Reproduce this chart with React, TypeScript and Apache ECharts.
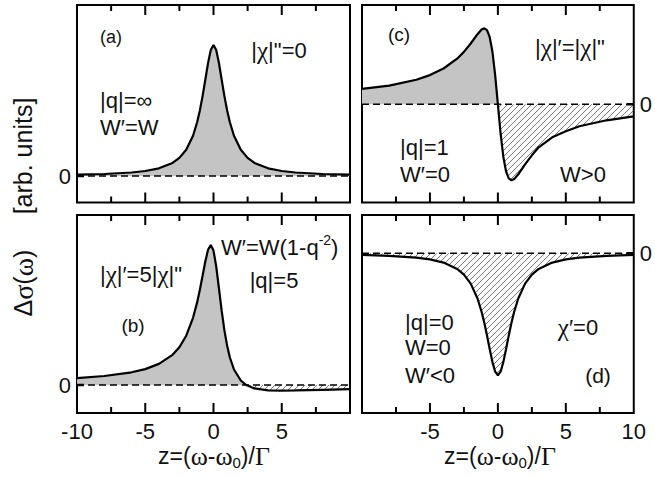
import React, { useEffect, useRef } from "react";
import * as echarts from "echarts";

// z = (ω-ω0)/Γ sample positions
const zGrid = [-10, -8, -6, -5, -4, -3, -2.5, -2, -1.5, -1.2, -1, -0.8, -0.6, -0.4, -0.2, 0, 0.2, 0.4, 0.6, 0.8, 1, 1.2, 1.5, 2, 2.5, 3, 4, 5, 6, 8, 10];
const zGridB = [-10, -8, -6, -5, -4, -3, -2.5, -2, -1.5, -1.2, -1, -0.8, -0.6, -0.4, -0.2, 0, 0.2, 0.4, 0.6, 0.8, 1, 1.2, 1.5, 2, 2.4, 3, 4, 5, 6, 8, 10];

// Δσ(ω) [arb. units]
const sigmaA = [0.013, 0.02, 0.035, 0.05, 0.077, 0.131, 0.181, 0.262, 0.403, 0.537, 0.655, 0.799, 0.963, 1.129, 1.26, 1.31, 1.26, 1.129, 0.963, 0.799, 0.655, 0.537, 0.403, 0.262, 0.181, 0.131, 0.077, 0.05, 0.035, 0.02, 0.013];
const sigmaB = [0.069, 0.09, 0.127, 0.159, 0.211, 0.302, 0.378, 0.493, 0.672, 0.826, 0.952, 1.093, 1.235, 1.352, 1.4, 1.344, 1.185, 0.965, 0.741, 0.546, 0.392, 0.275, 0.155, 0.045, 0, -0.034, -0.053, -0.056, -0.054, -0.048, -0.042];
const sigmaC = [0.155, 0.187, 0.246, 0.292, 0.358, 0.456, 0.524, 0.608, 0.701, 0.748, 0.76, 0.741, 0.671, 0.524, 0.292, 0, -0.292, -0.524, -0.671, -0.741, -0.76, -0.748, -0.7, -0.6, -0.51, -0.43, -0.33, -0.27, -0.22, -0.16, -0.12];
const sigmaD = [-0.016, -0.025, -0.043, -0.061, -0.093, -0.156, -0.213, -0.303, -0.452, -0.584, -0.694, -0.822, -0.959, -1.088, -1.184, -1.22, -1.184, -1.088, -0.959, -0.822, -0.694, -0.584, -0.452, -0.303, -0.213, -0.156, -0.093, -0.061, -0.043, -0.025, -0.016];

const xTickLabels = [-10, -5, 0, 5, 10];
const majorTicks = [-5, 0, 5];
const minorTicks = [-7.5, -2.5, 2.5, 7.5];

const FONT = "'Liberation Sans', Arial, Helvetica, sans-serif";
const GREEK = "'Liberation Serif', 'Times New Roman', serif";

function makeHatch() {
  const s = 6;
  const c = document.createElement("canvas");
  c.width = s;
  c.height = s;
  const ctx = c.getContext("2d")!;
  ctx.strokeStyle = "#555";
  ctx.lineWidth = 0.8;
  ctx.beginPath();
  ctx.moveTo(-1, s + 1);
  ctx.lineTo(s + 1, -1);
  ctx.moveTo(-1, 1);
  ctx.lineTo(1, -1);
  ctx.moveTo(s - 1, s + 1);
  ctx.lineTo(s + 1, s - 1);
  ctx.stroke();
  return c;
}

export default function App() {
  const ref = useRef<HTMLDivElement>(null);
  useEffect(() => {
    if (!ref.current) return;
    const chart = echarts.init(ref.current, null, { renderer: "svg" });
    const hatch = { image: makeHatch(), repeat: "repeat", imageWidth: 6, imageHeight: 6 } as any;

    const panels = [
      { grid: { left: 77, top: 5, width: 273, height: 197.5 }, z: zGrid, v: sigmaA, min: -0.265, max: 1.71, left: true, bottomRow: false },
      { grid: { left: 362, top: 5, width: 274, height: 197.5 }, z: zGrid, v: sigmaC, min: -0.982, max: 0.993, left: false, bottomRow: false },
      { grid: { left: 77, top: 215, width: 273, height: 198 }, z: zGridB, v: sigmaB, min: -0.28, max: 1.7, left: true, bottomRow: true },
      { grid: { left: 362, top: 215, width: 274, height: 198 }, z: zGrid, v: sigmaD, min: -1.597, max: 0.383, left: false, bottomRow: true },
    ];

    const xMin = xTickLabels[0];
    const xMax = xTickLabels[xTickLabels.length - 1];
    const grids: any[] = [];
    const xAxes: any[] = [];
    const yAxes: any[] = [];
    const series: any[] = [];
    const axisLine = { show: false, onZero: false };

    panels.forEach((p, i) => {
      grids.push({ ...p.grid, show: true, borderColor: "#000", borderWidth: 2, backgroundColor: "transparent" });
      xAxes.push({
        gridIndex: i, type: "value", min: xMin, max: xMax, interval: 5, position: "bottom",
        axisLine, axisTick: { show: false }, splitLine: { show: false },
        axisLabel: { show: p.bottomRow, fontSize: 22, color: "#111", margin: 7, fontFamily: FONT, showMinLabel: p.left, showMaxLabel: !p.left },
      });
      yAxes.push({
        gridIndex: i, type: "value", min: p.min, max: p.max, position: p.left ? "left" : "right",
        axisLine, splitLine: { show: false }, axisTick: { show: false },
        axisLabel: { show: true, customValues: [0], fontSize: 22, color: "#111", margin: 6, fontFamily: FONT, formatter: (v: number) => (v === 0 ? "0" : "") },
      });
      const pts = p.z.map((x, k) => [x, p.v[k]]);
      const base = { type: "line", xAxisIndex: i, yAxisIndex: i, symbol: "none", showSymbol: false, silent: true };
      series.push({ ...base, z: 2, data: pts.map(([x, y]) => [x, Math.max(y, 0)]), lineStyle: { width: 0 }, areaStyle: { color: "#c4c4c4", opacity: 1 } });
      series.push({ ...base, z: 2, data: pts.map(([x, y]) => [x, Math.min(y, 0)]), lineStyle: { width: 0 }, areaStyle: { color: hatch, opacity: 1 } });
      series.push({ ...base, z: 3, data: [[xMin, 0], [xMax, 0]], lineStyle: { color: "#000", width: 1.6, type: [7, 4] } });
      series.push({ ...base, z: 4, data: pts, lineStyle: { color: "#000", width: 2.2 } });

      // inside tick marks on top and bottom edges, in data units of this panel
      const perPxY = (p.max - p.min) / p.grid.height;
      const perPxX = (xMax - xMin) / p.grid.width;
      const tick = (v: number, lenPx: number) => {
        const d = lenPx * perPxY;
        series.push({ ...base, z: 5, data: [[v, p.max], [v, p.max - d]], lineStyle: { color: "#000", width: 2 } });
        series.push({ ...base, z: 5, data: [[v, p.min], [v, p.min + d]], lineStyle: { color: "#000", width: 2 } });
      };
      majorTicks.forEach((v) => tick(v, 10));
      minorTicks.forEach((v) => tick(v, 6));
      const xe = p.left ? xMin : xMax;
      series.push({ ...base, z: 5, data: [[xe, 0], [xe + (p.left ? 1 : -1) * 7 * perPxX, 0]], lineStyle: { color: "#000", width: 2.5 } });
    });

    const txt = (x: number, y: number, text: string, opts: any = {}) => {
      const fs = opts.fontSize || 22;
      return {
        type: "text", x, y, silent: true, z: 100, rotation: opts.rotation || 0,
        style: {
          text, fill: "#111", fontSize: fs, fontFamily: FONT,
          align: opts.align || "left", verticalAlign: "middle",
          rich: {
            g: { fontFamily: GREEK, fontSize: fs + 3, fill: "#111" },
            sub: { fontFamily: FONT, fontSize: 15, lineHeight: 10, verticalAlign: "bottom", fill: "#111" },
            sup: { fontFamily: FONT, fontSize: 14, lineHeight: 8, verticalAlign: "top", fill: "#111" },
            n: { fontFamily: FONT, fontSize: fs, lineHeight: 28, fill: "#111" },
          },
        },
      };
    };

    const texts = [
      // (a)
      txt(111, 37, "(a)", { align: "center", fontSize: 18 }),
      txt(279, 50, '|{g|χ}|"=0', { align: "center" }),
      txt(100, 100, "|q|=∞"),
      txt(100, 127, "W′=W"),
      // (c)
      txt(399, 34, "(c)", { align: "center", fontSize: 19 }),
      txt(570, 47, '|{g|χ}|′=|{g|χ}|"', { align: "center" }),
      txt(400, 147, "|q|=1"),
      txt(400, 174, "W′=0"),
      txt(583, 174, "W>0", { align: "center" }),
      // (b)
      txt(141, 274, '|{g|χ}|′=5|{g|χ}|"', { align: "center" }),
      txt(133, 325, "(b)", { align: "center", fontSize: 19 }),
      txt(221, 247, "{n|W′=W(1-q}{sup|-2}{n|)}"),
      txt(274, 280, "|q|=5", { align: "center" }),
      // (d)
      txt(405, 322, "|q|=0"),
      txt(405, 347, "W=0"),
      txt(405, 375, "W′<0"),
      txt(578, 327, "{g|χ}′=0", { align: "center" }),
      txt(598, 375, "(d)", { align: "center", fontSize: 21 }),
      // axis titles
      txt(214, 456, "{n|z=(}{g|ω}{n|-}{g|ω}{sub|0}{n|)/}{g|Γ}", { align: "center", fontSize: 23 }),
      txt(500, 456, "{n|z=(}{g|ω}{n|-}{g|ω}{sub|0}{n|)/}{g|Γ}", { align: "center", fontSize: 23 }),
      txt(23, 156, "[arb. units]", { align: "center", fontSize: 25, rotation: Math.PI / 2 }),
      txt(23, 283, "Δ{g|σ}({g|ω})", { align: "center", fontSize: 25, rotation: Math.PI / 2 }),
    ];

    chart.setOption({
      animation: false,
      backgroundColor: "#fff",
      grid: grids,
      xAxis: xAxes,
      yAxis: yAxes,
      series,
      graphic: texts,
    });
    return () => chart.dispose();
  }, []);
  return <div ref={ref} style={{ position: "absolute", left: 0, top: 0, width: 655, height: 478 }} />;
}
